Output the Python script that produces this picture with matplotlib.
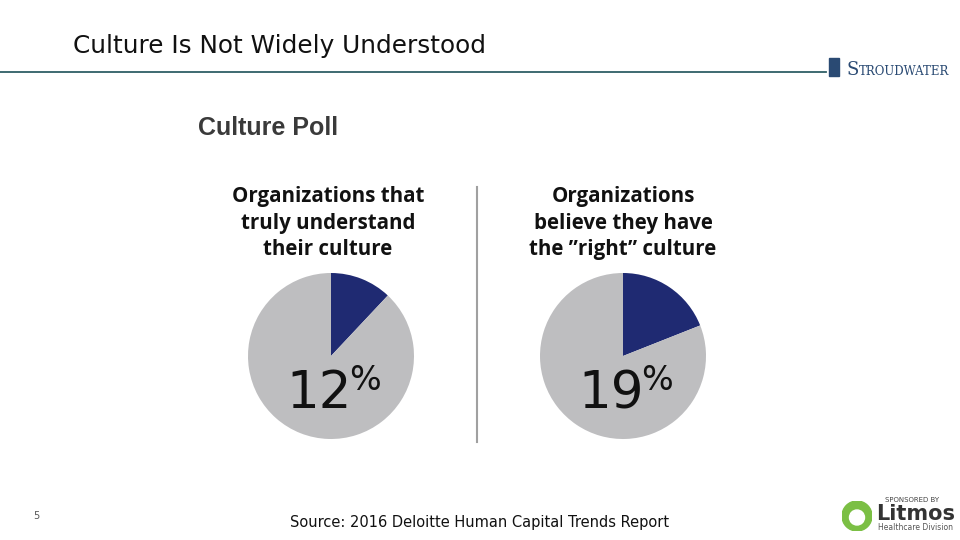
import matplotlib
matplotlib.use("Agg")
import matplotlib.pyplot as plt
from matplotlib.patches import Circle

# ---- data ----
headers = ["Organizations that\ntruly understand\ntheir culture",
           "Organizations\nbelieve they have\nthe \u201dright\u201d culture"]
percents = [12, 19]
title = "Culture Is Not Widely Understood"
subtitle = "Culture Poll"
source = "Source: 2016 Deloitte Human Capital Trends Report"
page = "5"

NAVY = "#1f2a72"
GRAY = "#bebec0"

W, H = 960, 540
fig = plt.figure(figsize=(9.6, 5.4), dpi=100)
fig.patch.set_facecolor("white")

def fx(px):
    return px / W

def fy(py):
    return 1 - py / H

# Title
fig.text(fx(73), fy(46), title, fontsize=17.8, family="DejaVu Sans",
         color="#111111", va="center", ha="left")
fig.add_artist(plt.Line2D([0, fx(826)], [fy(72), fy(72)], color="#2f5f66", lw=1.3))

# Stroudwater logo (text)
fig.text(fx(847), fy(75), "S", fontsize=13, family="DejaVu Serif", color="#2a4a73",
         va="baseline", ha="left")
fig.text(fx(859), fy(75), "TROUDWATER", fontsize=8.5, family="DejaVu Serif", color="#2a4a73",
         va="baseline", ha="left")
fig.add_artist(plt.Rectangle((fx(829), fy(76)), fx(10), 18 / H, color="#2a4a73"))

# Subtitle
fig.text(fx(198), fy(128), subtitle, fontsize=18, fontweight="bold",
         family="Liberation Sans", color="#3a3a3a", va="center", ha="left")

# Separator
fig.add_artist(plt.Line2D([fx(477), fx(477)], [fy(187), fy(442)], color="#a0a0a0", lw=1.5))

centers = [(331, 356), (623, 356)]
header_x = [328, 623]
R = 83
for i, (cx, cy) in enumerate(centers):
    fig.text(fx(header_x[i]), fy(223), headers[i], fontsize=14.8, fontweight="bold",
             family="Open Sans", color="#111111", ha="center", va="center",
             linespacing=1.32)
    ax = fig.add_axes([fx(cx - R), fy(cy + R), 2 * R / W, 2 * R / H])
    ax.pie([percents[i], 100 - percents[i]], colors=[NAVY, GRAY], startangle=90,
           counterclock=False, radius=1, wedgeprops=dict(linewidth=0))
    ax.set_xlim(-1, 1)
    ax.set_ylim(-1, 1)
    ax.set_aspect("equal")
    ax.axis("off")
    ax.text(-0.14, -0.63, f"{percents[i]}", fontsize=37,
            family=["Liberation Sans Narrow", "DejaVu Sans"], color="#111111",
            ha="center", va="baseline")
    ax.text(0.22, -0.1, "%", fontsize=24,
            family=["Liberation Sans Narrow", "DejaVu Sans"], color="#111111",
            ha="left", va="top")

# Footer
fig.text(fx(36), fy(516), page, fontsize=7, color="#555555", ha="center", va="center")
fig.text(fx(290), fy(523), source, fontsize=10.5, family="DejaVu Sans",
         color="#111111", ha="left", va="center")

# Litmos logo
fig.text(fx(912), fy(500), "SPONSORED BY", fontsize=5, color="#444444", ha="center", va="center")
fig.text(fx(876), fy(514), "Litmos", fontsize=15, fontweight="bold", color="#333333",
         ha="left", va="center")
fig.text(fx(878), fy(527), "Healthcare Division", fontsize=5.5, color="#555555",
         ha="left", va="center")
lax = fig.add_axes([fx(842), fy(531), 30 / W, 30 / H])
lax.add_patch(Circle((0, 0), 1, color="#7bbf44"))
lax.add_patch(Circle((0, -0.1), 0.5, color="white"))
lax.set_xlim(-1, 1)
lax.set_ylim(-1, 1)
lax.set_aspect("equal")
lax.axis("off")

fig.savefig("out.png", dpi=100, facecolor="white")
